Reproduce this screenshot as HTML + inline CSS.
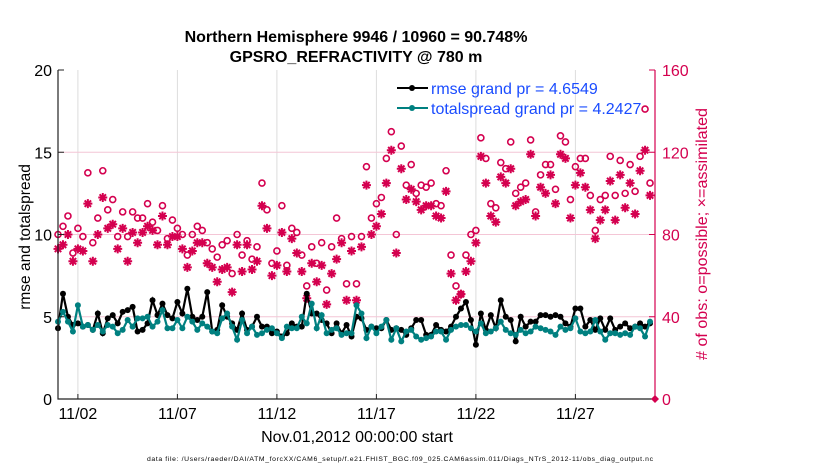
<!DOCTYPE html>
<html><head><meta charset="utf-8"><style>
body{margin:0;background:#fff;}
svg{display:block;font-family:"Liberation Sans",sans-serif;}
</style></head><body>
<svg id="chart" width="830" height="470" viewBox="0 0 830 470" xmlns="http://www.w3.org/2000/svg">
<rect width="830" height="470" fill="#fff"/>
<g id="grid"></g>
<g id="series"></g>
<g id="axes"></g>
<text x="356" y="42" text-anchor="middle" font-size="16" font-weight="bold">Northern Hemisphere 9946 / 10960 = 90.748%</text>
<text x="356" y="62" text-anchor="middle" font-size="16" font-weight="bold">GPSRO_REFRACTIVITY @ 780 m</text>
<text transform="translate(30,237) rotate(-90)" text-anchor="middle" font-size="15.5">rmse and totalspread</text>
<text transform="translate(707,234) rotate(-90)" text-anchor="middle" font-size="16" textLength="252" lengthAdjust="spacingAndGlyphs" fill="#d4004f"># of obs: o=possible; ×=assimilated</text>
<text x="357" y="442" text-anchor="middle" font-size="16">Nov.01,2012 00:00:00 start</text>
<text x="400" y="461" text-anchor="middle" font-size="6.8" textLength="506">data file: /Users/raeder/DAI/ATM_forcXX/CAM6_setup/f.e21.FHIST_BGC.f09_025.CAM6assim.011/Diags_NTrS_2012-11/obs_diag_output.nc</text>
<g>
<line x1="397" y1="88" x2="428" y2="88" stroke="#000" stroke-width="2"/><circle cx="412" cy="88" r="3" fill="#000"/>
<text x="431" y="94" font-size="16" fill="#1a4cff">rmse grand pr = 4.6549</text>
<line x1="397" y1="108" x2="428" y2="108" stroke="#008080" stroke-width="2"/><circle cx="412" cy="108" r="3" fill="#008080"/>
<text x="431" y="114" font-size="16" fill="#1a4cff">totalspread grand pr = 4.2427</text>
</g>
</svg>
<script>
const rmse=[4.3,6.4,5.0,4.5,4.6,4.4,4.5,4.2,5.2,4.0,4.9,5.1,4.6,5.3,5.4,5.6,4.1,4.2,4.6,6.0,5.1,5.8,5.1,4.9,5.9,5.2,6.7,5.0,4.8,5.0,6.5,4.1,4.2,5.7,5.0,4.6,4.2,5.2,4.2,4.4,5.0,4.4,4.4,4.0,4.1,3.8,4.0,4.6,4.4,4.4,6.4,5.2,5.2,4.8,4.6,4.0,4.6,4.0,4.5,3.8,
5.0,4.9,4.2,4.4,4.3,4.3,4.8,4.2,4.3,4.2,3.9,4.3,4.8,4.8,3.9,3.9,4.5,4.2,4.1,4.4,5.0,5.5,5.9,4.8,3.3,5.2,4.2,5.1,4.3,6.0,5.0,4.8,3.5,5.0,4.4,4.7,4.7,5.1,5.1,5.0,5.1,5.0,4.6,4.4,5.5,5.5,4.4,4.8,4.2,4.9,4.2,4.9,4.2,4.4,4.6,4.3,4.4,4.6,4.4,4.6];
const spread=[4.7,5.3,4.7,4.1,5.7,4.4,4.5,4.2,4.5,4.1,4.5,4.4,4.0,4.2,4.8,4.4,4.9,4.9,5.0,4.4,4.7,5.4,4.3,4.3,4.8,4.3,5.0,4.7,4.2,4.6,4.4,4.1,4.0,4.9,5.2,4.4,3.6,4.8,4.0,4.4,3.9,4.0,4.2,4.3,4.0,3.7,4.4,4.3,4.3,5.0,4.6,5.8,4.3,5.1,4.0,4.2,4.3,3.9,4.0,4.0,
5.7,5.2,3.7,4.4,4.0,4.4,4.8,3.6,4.3,3.5,4.1,4.2,3.8,3.6,3.7,3.8,4.1,4.1,3.6,4.2,4.4,4.5,4.5,4.3,4.1,4.6,4.0,4.1,4.3,4.7,4.2,4.0,3.9,4.2,4.0,4.1,4.4,4.3,4.2,4.1,3.9,4.4,4.2,4.3,4.9,4.1,4.0,4.1,4.8,4.1,3.6,4.0,4.0,3.9,4.0,3.9,4.4,4.3,3.8,4.7];
const possible=[80,84,89,71,83,79,110,76,88,111,92,97,79,91,79,91,88,88,95,86,82,94,78,87,83,80,70,80,84,82,76,73,69,75,77,61,80,70,77,68,74,105,92,66,72,94,65,83,81,70,55,74,66,76,53,74,88,78,56,79,
56,79,113,88,95,98,117,130,80,123,104,114,100,104,103,105,95,94,111,70,55,51,70,80,82,127,117,95,93,115,112,125,100,103,105,126,91,109,114,114,102,128,125,97,113,117,117,99,82,97,99,118,99,116,100,114,101,118,141,105];
const assimilated=[73,75,80,67,73,72,95,67,80,98,83,85,73,83,67,81,76,81,84,82,75,89,75,79,79,73,64,72,76,76,66,64,57,63,64,52,75,62,75,63,67,94,83,60,65,81,62,78,71,62,49,66,57,65,46,61,68,76,48,72,
48,74,104,80,84,90,105,121,71,112,97,102,96,92,94,94,89,88,101,61,48,51,62,67,76,118,105,89,86,108,105,112,94,96,97,119,89,103,100,109,95,119,117,88,104,110,103,92,78,87,92,106,87,109,93,105,90,111,121,99];
const xTickDays=[1,6,11,16,21,26];
const xTickLabels=["11/02","11/07","11/12","11/17","11/22","11/27"];
const yLeftTicks=[0,5,10,15,20];
const yRightTicks=[0,40,80,120,160];

const L=58,R=655,T=70,B=399,NS="http://www.w3.org/2000/svg";
const xs=d=>L+(d/30)*(R-L);
const yl=v=>B-(v/20)*(B-T);
const yr=v=>B-(v/160)*(B-T);
function mk(tag,attrs,parent){const e=document.createElementNS(NS,tag);for(const k in attrs)e.setAttribute(k,attrs[k]);parent.appendChild(e);return e;}
const grid=document.getElementById('grid'),ser=document.getElementById('series'),ax=document.getElementById('axes');
xTickDays.forEach((d,i)=>{
  const g=mk('line',{x1:xs(d),x2:xs(d),y1:T,y2:B,stroke:'#dcdcdc','stroke-width':1},grid);
  
  
  const t=mk('line',{x1:xs(d),x2:xs(d),y1:B,y2:B-5,stroke:'#222'},ax);
  
  
  const lb=mk('text',{x:xs(d),y:419,'text-anchor':'middle','font-size':16},ax);
  lb.textContent=xTickLabels[i];
  
  
});
yLeftTicks.forEach(v=>{
  if(v>0&&v<20){const g=mk('line',{x1:L,x2:R,y1:yl(v),y2:yl(v),stroke:'#f4c6d6','stroke-width':1},grid);
  
  }
  const t=mk('line',{x1:L,x2:L+6,y1:yl(v),y2:yl(v),stroke:'#222'},ax);
  
  
  const lb=mk('text',{x:L-6,y:yl(v)+6,'text-anchor':'end','font-size':16},ax);
  lb.textContent=v;
  
  
});
yRightTicks.forEach(v=>{
  const t=mk('line',{x1:R-6,x2:R,y1:yr(v),y2:yr(v),stroke:'#d4004f'},ax);
  
  
  const lb=mk('text',{x:R+7,y:yr(v)+6,'font-size':16,fill:'#d4004f'},ax);
  lb.textContent=v;
  
  
});
const la=mk('path',{d:`M${L},${T}V${B}H${R}`,fill:'none',stroke:'#222','stroke-width':1.2},ax);


const ra=mk('line',{x1:R,x2:R,y1:T,y2:B,stroke:'#d4004f','stroke-width':1.2},ax);


const dm=mk('path',{d:`M${R-4},${B}L${R},${B-4}L${R+4},${B}L${R},${B+4}Z`,fill:'#d4004f'},ax);


const dd=i=>i*0.25;
possible.forEach((v,i)=>{
  const c=mk('circle',{cx:xs(dd(i)),cy:yr(v),r:3,fill:'none',stroke:'#d4004f','stroke-width':1.6},ser);
  
  
});
assimilated.forEach((v,i)=>{
  const x=xs(dd(i)),y=yr(v),s=4.5,q=3.2;
  const p=mk('path',{d:`M${x-s},${y}H${x+s}M${x},${y-s}V${y+s}M${x-q},${y-q}L${x+q},${y+q}M${x-q},${y+q}L${x+q},${y-q}`,stroke:'#d4004f','stroke-width':2},ser);
  
  
});
function line(arr,col,name){
  const pl=mk('polyline',{points:arr.map((v,i)=>xs(dd(i))+','+yl(v)).join(' '),fill:'none',stroke:col,'stroke-width':2.2},ser);
  
  
  arr.forEach((v,i)=>{
    const c=mk('circle',{cx:xs(dd(i)),cy:yl(v),r:3,fill:col},ser);
    
    
  });
}
line(rmse,'#000','rmse');
line(spread,'#008080','totalspread');
</script>
</body></html>
